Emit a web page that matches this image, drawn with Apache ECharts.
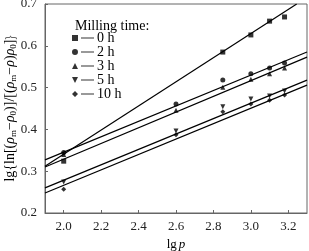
<!DOCTYPE html>
<html>
<head>
<meta charset="utf-8">
<script src="https://cdn.jsdelivr.net/npm/echarts@6/dist/echarts.min.js"></script>
<style>html,body{margin:0;padding:0;background:#fff}#c{width:309px;height:251px}</style>
</head>
<body>
<div id="c"></div>
<script>
var lgp = [2.0, 2.6, 2.85, 3.0, 3.1, 3.18];
var h0  = [0.324, null, 0.585, 0.626, 0.659, 0.669];
var h2  = [0.345, 0.461, 0.518, 0.533, 0.547, 0.559];
var h3  = [0.340, 0.446, 0.501, 0.520, 0.533, 0.547];
var h5  = [0.274, 0.396, 0.454, 0.473, 0.480, 0.492];
var h10 = [0.257, 0.387, 0.442, 0.461, 0.470, 0.482];
var fit0  = [[1.9, 0.312], [3.245, 0.70]];
var fit2  = [[1.9, 0.327], [3.3, 0.585]];
var fit3  = [[1.9, 0.310], [3.3, 0.573]];
var fit5  = [[1.9, 0.260], [3.3, 0.518]];
var fit10 = [[1.9, 0.248], [3.3, 0.506]];
var names = ['0 h', '2 h', '3 h', '5 h', '10 h'];
var xTicks = [2.0, 2.2, 2.4, 2.6, 2.8, 3.0, 3.2];

var serif = 'Liberation Serif, Times New Roman, serif';
var lineSeg = ' M9,2.5 h13 v1.1 h-13 z';
var icons = [
  'path://M0,0 h6 v6 h-6 z' + lineSeg,
  'path://M3,0 A3,3 0 1,1 2.99,0 z' + lineSeg,
  'path://M3,0 L6,6 L0,6 z' + lineSeg,
  'path://M0,0 L6,0 L3,6 z' + lineSeg,
  'path://M3,0 L6,3 L3,6 L0,3 z' + lineSeg
];
var symbols = ['rect', 'circle', 'triangle', 'path://M0,0 L6,0 L3,6 z', 'diamond'];
var vals = [h0, h2, h3, h5, h10];
var fits = [fit0, fit2, fit3, fit5, fit10];

function pairs(v) {
  var out = [];
  for (var i = 0; i < lgp.length; i++) if (v[i] != null) out.push([lgp[i], v[i]]);
  return out;
}

var series = [];
for (var k = 0; k < 5; k++) {
  series.push({
    name: names[k], type: 'scatter', data: pairs(vals[k]),
    symbol: symbols[k], symbolSize: 5,
    itemStyle: {color: '#000'}, z: 3
  });
  series.push({
    name: names[k], type: 'line', data: fits[k], symbol: 'none',
    lineStyle: {color: '#000', width: 1.2}, itemStyle: {color: '#000'},
    silent: true, z: 2
  });
}

var chart = echarts.init(document.getElementById('c'), null, {renderer: 'canvas'});
chart.setOption({
  animation: false,
  backgroundColor: '#fff',
  title: {
    text: 'Milling time:', left: 70, top: 14,
    textStyle: {fontFamily: serif, fontSize: 14, fontWeight: 'normal', color: '#000'}
  },
  legend: {
    orient: 'vertical', left: 72, top: 31, padding: 0,
    itemWidth: 22, itemHeight: 6, itemGap: 0,
    textStyle: {fontFamily: serif, fontSize: 14, lineHeight: 13.5, height: 13.5, color: '#000', padding: [0, 0, 0, -2]},
    data: names.map(function (n, i) { return {name: n, icon: icons[i], itemStyle: {color: '#000'}}; }),
    selectedMode: false
  },
  grid: {left: 45, right: 2, top: 4, bottom: 38, show: true, borderColor: '#666', borderWidth: 1,
    containLabel: false, outerBoundsMode: 'none'},
  xAxis: {
    type: 'value', min: 1.9, max: 3.3,
    name: '{a|lg}{b|p}', nameLocation: 'middle', nameGap: 25, nameMoveOverlap: false,
    nameTextStyle: {rich: {
      a: {fontFamily: serif, fontSize: 13, color: '#000'},
      b: {fontFamily: serif, fontSize: 13, fontStyle: 'italic', color: '#000', padding: [0, 0, 0, 2]}
    }},
    axisLine: {show: true, lineStyle: {color: '#666'}},
    axisTick: {show: true, inside: true, length: 3, customValues: xTicks, lineStyle: {color: '#666'}},
    axisLabel: {customValues: xTicks, margin: 7, fontFamily: serif, fontSize: 13, color: '#222',
      formatter: function (v) { return v.toFixed(1); }},
    splitLine: {show: false}
  },
  yAxis: {
    type: 'value', min: 0.2, max: 0.7, interval: 0.1,
    name: '{t|lg{ln[(}{r|ρ}{s|m}{t|−}{r|ρ}{s|0}{t|)]/[(}{r|ρ}{s|m}{t|−}{r|ρ}{t|)}{r|ρ}{s|0}{t|]}}',
    nameLocation: 'middle', nameGap: 27, nameRotate: 90, nameMoveOverlap: false,
    nameTextStyle: {rich: {
      t: {fontFamily: serif, fontSize: 14, color: '#000'},
      r: {fontFamily: serif, fontSize: 14, fontStyle: 'italic', color: '#000'},
      s: {fontFamily: serif, fontSize: 9, color: '#000', verticalAlign: 'bottom', padding: [6, 0, 0, 0]}
    }},
    axisLine: {show: true, lineStyle: {color: '#666'}},
    axisTick: {show: true, inside: true, length: 3, lineStyle: {color: '#666'}},
    axisLabel: {margin: 8, fontFamily: serif, fontSize: 13, color: '#222',
      formatter: function (v) { return v.toFixed(1); }},
    splitLine: {show: false}
  },
  series: series
});
</script>
</body>
</html>
